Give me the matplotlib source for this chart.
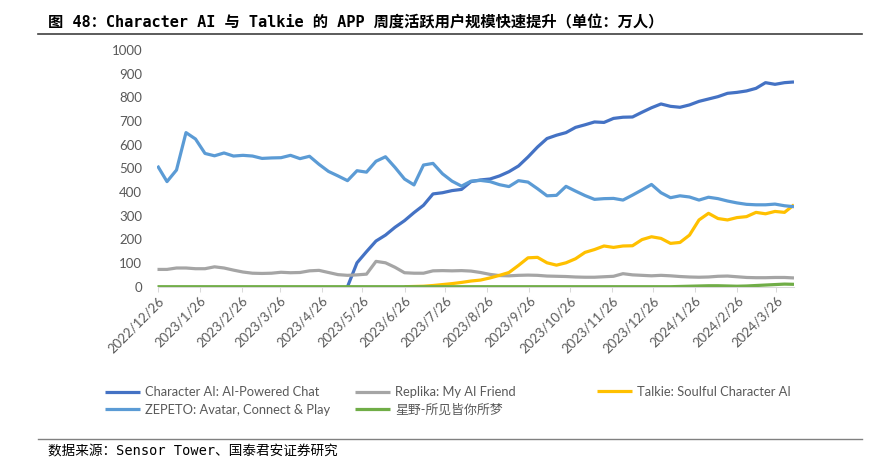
import numpy as np
import pandas as pd
import matplotlib
matplotlib.use("Agg")
import matplotlib.pyplot as plt
import matplotlib.dates as mdates
from matplotlib.lines import Line2D

plt.rcParams['font.family'] = ['Lato', 'Noto Sans CJK SC', 'DejaVu Sans']

# ---------------- data ----------------
start_date = "2022-12-26"
n_weeks = 68
dates = pd.date_range(start_date, periods=n_weeks, freq="7D")

nan = np.nan
character_ai = [nan] * 20 + [
    0, 101, 148, 193, 218, 251, 279, 313, 344, 392,
    397, 406, 411, 444, 451, 455, 468, 486, 510, 548,
    590, 626, 640, 651, 673, 684, 696, 694, 711, 716,
    717, 737, 756, 772, 762, 758, 768, 783, 793, 803,
    817, 821, 827, 838, 862, 855, 862, 865]

replika = [
    73, 73, 79, 79, 76, 76, 84, 79, 70, 62,
    57, 56, 57, 61, 59, 60, 67, 69, 60, 51,
    48, 50, 53, 107, 101, 82, 59, 57, 57, 67,
    68, 67, 68, 66, 60, 52, 47, 46, 48, 49,
    48, 45, 44, 43, 41, 40, 40, 42, 44, 55,
    50, 48, 46, 48, 46, 43, 41, 40, 41, 44,
    45, 42, 39, 38, 38, 39, 39, 37]

talkie = [nan] * 26 + [
    0, 1, 2, 5, 9, 13, 18, 24, 28, 37,
    48, 60, 90, 122, 124, 101, 91, 101, 118, 145,
    157, 172, 166, 172, 173, 199, 211, 204, 183, 187,
    218, 282, 310, 288, 282, 292, 296, 314, 308, 318,
    314, 346]

zepeto = [
    511, 444, 493, 651, 624, 563, 553, 565, 552, 555,
    552, 542, 544, 545, 555, 541, 551, 517, 487, 468,
    448, 490, 484, 530, 549, 504, 455, 430, 514, 521,
    477, 446, 425, 446, 449, 444, 431, 423, 448, 442,
    414, 384, 386, 424, 404, 385, 369, 372, 373, 366,
    387, 409, 432, 397, 376, 384, 379, 366, 378, 372,
    362, 354, 348, 346, 346, 349, 342, 338]

xingye = [0] * 55 + [1, 2, 3, 4, 4, 3, 2, 3, 5, 7, 9, 11, 10]

series_names = ["Character AI: AI-Powered Chat", "Replika: My AI Friend",
                "Talkie: Soulful Character AI", "ZEPETO: Avatar, Connect & Play",
                "星野-所见皆你所梦"]
series_colors = ["#4472C4", "#A5A5A5", "#FFC000", "#5B9BD5", "#70AD47"]

tick_dates = ["2022-12-26", "2023-01-26", "2023-02-26", "2023-03-26", "2023-04-26",
              "2023-05-26", "2023-06-26", "2023-07-26", "2023-08-26", "2023-09-26",
              "2023-10-26", "2023-11-26", "2023-12-26", "2024-01-26", "2024-02-26",
              "2024-03-26"]
tick_labels = ["2022/12/26", "2023/1/26", "2023/2/26", "2023/3/26", "2023/4/26",
               "2023/5/26", "2023/6/26", "2023/7/26", "2023/8/26", "2023/9/26",
               "2023/10/26", "2023/11/26", "2023/12/26", "2024/1/26", "2024/2/26",
               "2024/3/26"]
y_ticks = [0, 100, 200, 300, 400, 500, 600, 700, 800, 900, 1000]

title = "图 48：Character AI 与 Talkie 的 APP 周度活跃用户规模快速提升（单位：万人）"
source = "数据来源：Sensor Tower、国泰君安证券研究"

# ---------------- figure ----------------
W, H = 870, 473
fig = plt.figure(figsize=(W / 100, H / 100), dpi=100)
x0, x1, ytop, ybot = 157.5, 794.0, 50.0, 286.7
ax = fig.add_axes([x0 / W, 1 - ybot / H, (x1 - x0) / W, (ybot - ytop) / H])

all_series = [character_ai, replika, talkie, zepeto, xingye]
handles = []
for vals, name, col in zip(all_series, series_names, series_colors):
    h, = ax.plot(dates, vals, color=col, lw=2.3, label=name,
                 solid_joinstyle='round', solid_capstyle='butt')
    handles.append(h)

ax.set_xlim(dates[0], dates[-1])
ax.set_ylim(0, 1000)
ax.set_yticks(y_ticks)
ax.set_yticklabels([str(v) for v in y_ticks])
ax.set_xticks(pd.to_datetime(tick_dates))
ax.set_xticklabels(tick_labels, rotation=45, ha='right', va='top',
                   rotation_mode='anchor')

for s in ['top', 'right', 'left']:
    ax.spines[s].set_visible(False)
ax.spines['bottom'].set_color('#D9D9D9')
ax.spines['bottom'].set_linewidth(0.75)
ax.set_zorder(1)

ax.tick_params(axis='y', length=0, pad=11, labelsize=9.5, labelcolor='#595959')
ax.tick_params(axis='x', length=3.5, width=0.75, color='#D9D9D9', direction='out',
               pad=2, labelsize=9.5, labelcolor='#595959')

# legends (three columns, Excel-like placement)
leg_kw = dict(frameon=False, fontsize=9.3, handlelength=2.7, handletextpad=0.4,
              borderpad=0, borderaxespad=0, labelspacing=0.42,
              labelcolor='#595959')
leg1 = fig.legend([handles[0], handles[3]], [series_names[0], series_names[3]],
                  loc='center left', bbox_to_anchor=(105 / W, 1 - 401 / H), **leg_kw)
leg2 = fig.legend([handles[1], handles[4]], [series_names[1], series_names[4]],
                  loc='center left', bbox_to_anchor=(355 / W, 1 - 401 / H), **leg_kw)
leg3 = fig.legend([handles[2]], [series_names[2]],
                  loc='center left', bbox_to_anchor=(597 / W, 1 - 392 / H), **leg_kw)

# title and source
cjk_mono = ['DejaVu Sans Mono', 'Noto Sans CJK SC']
fig.text(48 / W, 1 - 22.5 / H, title, fontsize=11, fontweight='bold',
         family=cjk_mono, va='center', ha='left', color='#000000')
fig.add_artist(Line2D([38 / W, 862 / W], [1 - 34.5 / H, 1 - 34.5 / H],
                      color='#404040', lw=1.2, transform=fig.transFigure))
fig.add_artist(Line2D([38 / W, 862 / W], [1 - 438.5 / H, 1 - 438.5 / H],
                      color='#808080', lw=1.0, transform=fig.transFigure))
fig.text(48 / W, 1 - 451 / H, source, fontsize=9.8, family=cjk_mono,
         va='center', ha='left', color='#000000')

fig.savefig("out.png", dpi=100)
